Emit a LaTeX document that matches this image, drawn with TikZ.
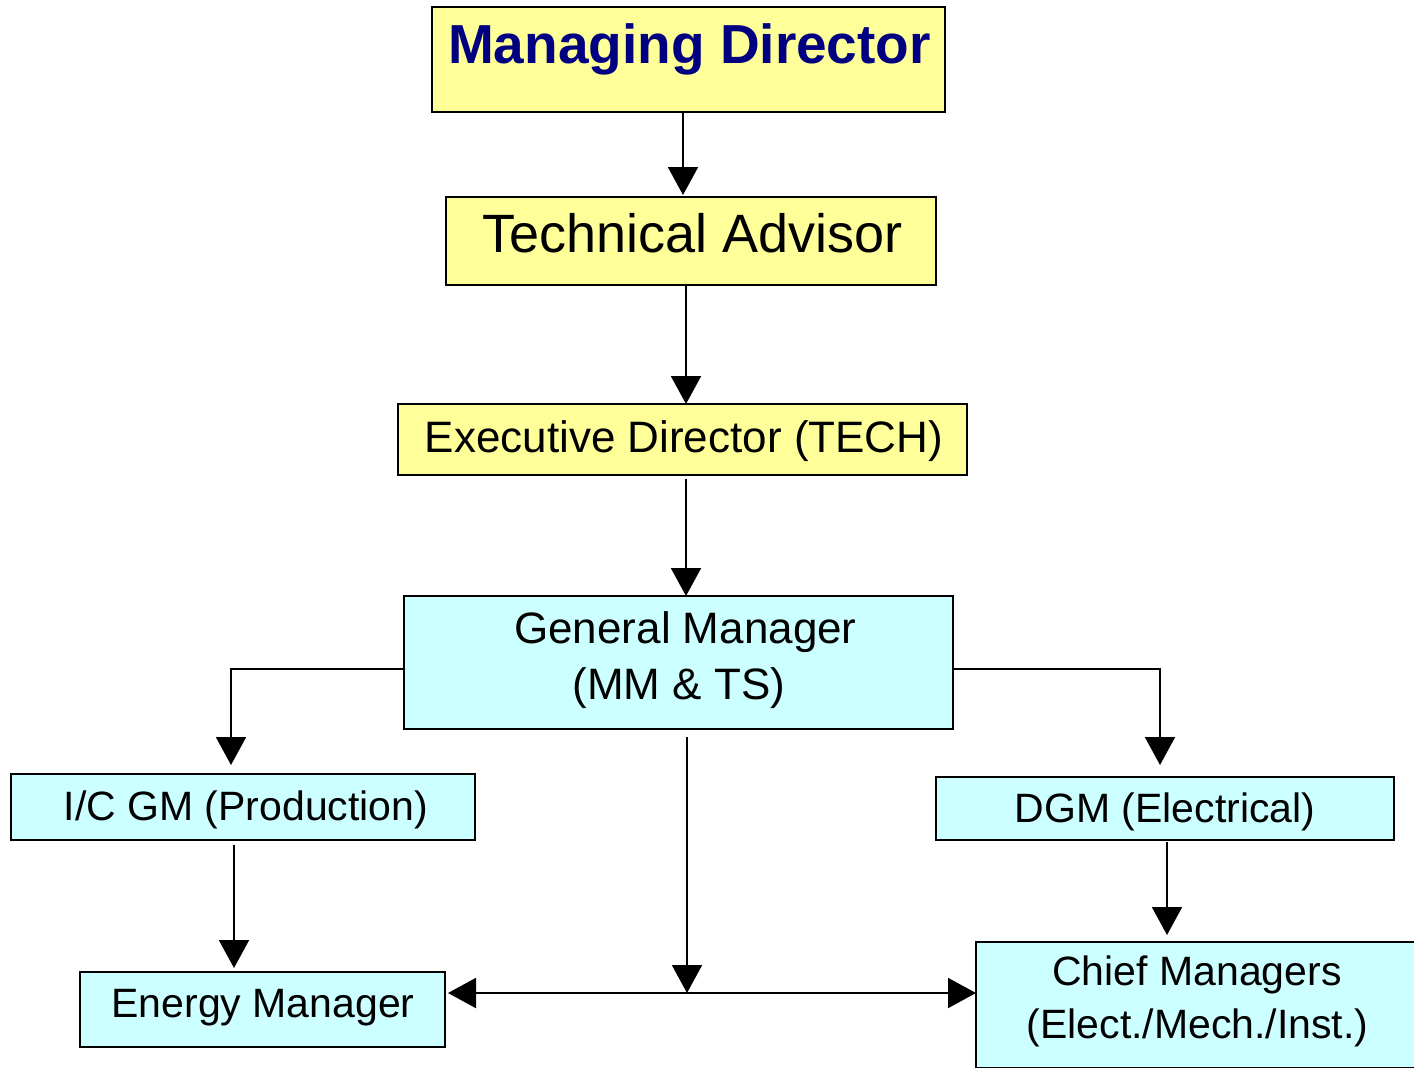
\documentclass[tikz,border=0pt]{standalone}
\usepackage{fontspec}
\setmainfont{Liberation Sans}
\usetikzlibrary{arrows.meta,calc}
\definecolor{boxyellow}{HTML}{FFFF99}
\definecolor{boxcyan}{HTML}{CCFFFF}
\definecolor{mdnavy}{HTML}{000080}
\begin{document}
\begin{tikzpicture}[x=1pt,y=-1pt,
  box/.style={draw=black,line width=2.4pt,inner sep=0pt,outer sep=0pt,rectangle},
  yelbox/.style={box,fill=boxyellow},
  cyanbox/.style={box,fill=boxcyan},
  txt/.style={anchor=base,inner sep=0pt,outer sep=0pt},
  bigbold/.style={font=\fontsize{55}{60}\selectfont\bfseries,text=mdnavy},
  bigtxt/.style={font=\fontsize{54}{60}\selectfont},
  midtxt/.style={font=\fontsize{44}{50}\selectfont},
  smalltxt/.style={font=\fontsize{41}{48}\selectfont},
  arr/.style={line width=2pt,-{Triangle[length=28pt,width=30pt]}},
  dblarr/.style={line width=2pt,{Triangle[length=28pt,width=30pt]}-{Triangle[length=28pt,width=30pt]}}
]
\useasboundingbox (0,0) rectangle (1414,1068);
\begin{scope}
\clip (0,0) rectangle (1414,1068);
% boxes
\node[yelbox,minimum width=513pt,minimum height=105pt] (md) at (688.5,59.5) {};
\node[yelbox,minimum width=490pt,minimum height=88pt] (ta) at (691,241) {};
\node[yelbox,minimum width=569pt,minimum height=71pt] (ed) at (682.5,439.5) {};
\node[cyanbox,minimum width=549pt,minimum height=133pt] (gm) at (678.5,662.5) {};
\node[cyanbox,minimum width=464pt,minimum height=66pt] (ic) at (243,807) {};
\node[cyanbox,minimum width=458pt,minimum height=63pt] (dgm) at (1165,808.5) {};
\node[cyanbox,minimum width=365pt,minimum height=75pt] (em) at (262.5,1009.5) {};
\node[cyanbox,minimum width=448pt,minimum height=126pt] (cm) at (1200,1005) {};
\end{scope}
% texts
\node[txt,bigbold] (mdt) at (689.5,63) {Managing Director};
\node[txt,bigtxt] (tat) at (692.5,252) {Technical Advisor};
\node[txt,midtxt] (edt) at (684,452) {Executive Director (TECH)};
\node[txt,midtxt] (gmt1) at (685.5,643) {General Manager};
\node[txt,midtxt] (gmt2) at (679,699) {(MM \& TS)};
\node[txt,smalltxt] (ict) at (246,820) {I/C GM (Production)};
\node[txt,smalltxt] (dgmt) at (1165,822) {DGM (Electrical)};
\node[txt,smalltxt] (emt) at (263,1017) {Energy Manager};
\node[txt,smalltxt] (cmt1) at (1197,985) {Chief Managers};
\node[txt,smalltxt] (cmt2) at (1197.5,1038) {(Elect./Mech./Inst.)};
% connectors
\draw[arr] ([xshift=-5.5pt]md.south) -- ([xshift=-5.5pt,yshift=2pt]md.south |- ta.north);
\draw[arr] ([xshift=-5pt]ta.south) -- ([xshift=-5pt]ta.south |- ed.north);
\draw[arr] ([xshift=3.5pt,yshift=-4pt]ed.south) -- ([xshift=3.5pt]ed.south |- gm.north);
\draw[arr] ([yshift=-6.5pt]gm.west) -| ([xshift=-12pt,yshift=9pt]ic.north);
\draw[arr] ([yshift=-6.5pt]gm.east) -| ([xshift=-5pt,yshift=12pt]dgm.north);
\coordinate (junc) at (687,993);
\draw[arr] ([xshift=8.5pt,yshift=-8pt]gm.south) -- (junc);
\draw[dblarr] ([xshift=3pt,yshift=16.5pt]em.east) -- ([yshift=12pt]cm.west);
\draw[arr] ([xshift=-9pt,yshift=-5pt]ic.south) -- ([xshift=-9pt,yshift=4pt]ic.south |- em.north);
\draw[arr] ([xshift=2pt,yshift=-2pt]dgm.south) -- ([xshift=2pt,yshift=7pt]dgm.south |- cm.north);
\end{tikzpicture}
\end{document}
